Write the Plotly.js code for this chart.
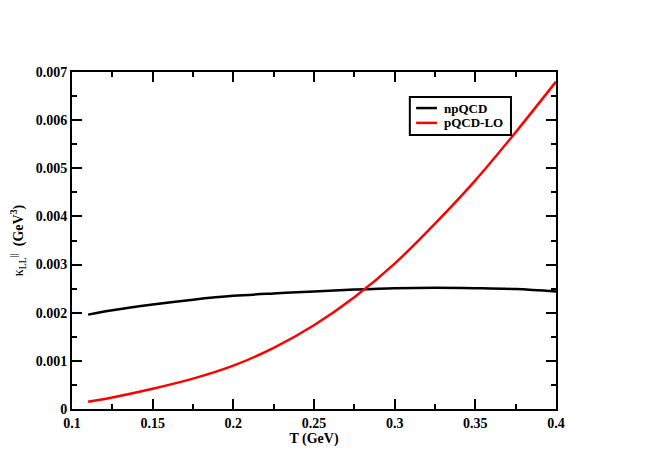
<!DOCTYPE html>
<html>
<head>
<meta charset="utf-8">
<script src="https://cdn.plot.ly/plotly-3.0.1.min.js"></script>
<style>
  html, body { margin: 0; padding: 0; background: #fff; }
  #chart { width: 664px; height: 470px; }
</style>
</head>
<body>
<div id="chart"></div>
<script>
"use strict";

// Temperature grid (GeV)
const temps = [0.11, 0.125, 0.15, 0.175, 0.2, 0.225, 0.25, 0.275, 0.3, 0.325, 0.35, 0.375, 0.4];

// kappa_LL (GeV^3)
const npQCD = [0.00196, 0.00205, 0.00217, 0.00227, 0.00235, 0.0024, 0.00244, 0.00248, 0.00251, 0.00252, 0.00251, 0.00249, 0.00244];
const pQCDLO = [0.00015, 0.00024, 0.00042, 0.00063, 0.0009, 0.00127, 0.00174, 0.00232, 0.00302, 0.00385, 0.00475, 0.00575, 0.0068];

const seriesNames = ["npQCD", "pQCD-LO"];
const seriesColors = ["#000000", "#ff0000"];

const FONT = "'Liberation Serif', 'Times New Roman', serif";

const traces = [npQCD, pQCDLO].map((vals, i) => ({
  type: "scatter",
  mode: "lines",
  name: seriesNames[i],
  x: temps,
  y: vals,
  line: { color: seriesColors[i], width: 2.5, shape: "spline", smoothing: 1 },
}));

const axisBase = {
  showline: true,
  linecolor: "#000",
  linewidth: 2,
  mirror: "ticks",
  ticks: "inside",
  ticklen: 10,
  tickwidth: 2,
  tickcolor: "#000",
  showgrid: false,
  zeroline: false,
  tickfont: { family: FONT, size: 14, color: "#000", weight: "bold" },
};

// Hand-made legend box (Plotly's own legend rows are too tall for this look)
const LEG = { x0: 0.698, x1: 0.907, y0: 0.813, y1: 0.926, rows: [0.893, 0.849], s0: 0.711, s1: 0.754, tx: 0.764 };

const shapes = [
  {
    type: "rect", xref: "paper", yref: "paper", layer: "above",
    x0: LEG.x0, x1: LEG.x1, y0: LEG.y0, y1: LEG.y1,
    line: { color: "#000", width: 2 }, fillcolor: "#fff",
  },
  ...seriesNames.map((n, i) => ({
    type: "line", xref: "paper", yref: "paper", layer: "above",
    x0: LEG.s0, x1: LEG.s1, y0: LEG.rows[i], y1: LEG.rows[i],
    line: { color: seriesColors[i], width: 2.5 },
  })),
];

const annotations = seriesNames.map((n, i) => ({
  xref: "paper", yref: "paper",
  x: LEG.tx, y: LEG.rows[i],
  xanchor: "left", yanchor: "middle",
  text: "<b>" + n + "</b>",
  showarrow: false,
  font: { family: FONT, size: 13, color: "#000" },
}));

const layout = {
  width: 664,
  height: 470,
  paper_bgcolor: "#fff",
  plot_bgcolor: "#fff",
  font: { family: FONT, color: "#000" },
  margin: { t: 72, r: 108, b: 61, l: 72 },
  showlegend: false,
  shapes,
  annotations,
  xaxis: {
    ...axisBase,
    range: [0.1, 0.4],
    tickvals: [0.1, 0.15, 0.2, 0.25, 0.3, 0.35, 0.4],
    ticktext: ["0.1", "0.15", "0.2", "0.25", "0.3", "0.35", "0.4"],
    minor: { dtick: 0.025, tick0: 0.1, ticks: "inside", ticklen: 5, tickwidth: 2, tickcolor: "#000" },
    title: {
      text: "<b>T (GeV)</b>",
      font: { family: FONT, size: 14, color: "#000" },
      standoff: 2,
    },
  },
  yaxis: {
    ...axisBase,
    range: [0, 0.007],
    tickvals: [0, 0.001, 0.002, 0.003, 0.004, 0.005, 0.006, 0.007],
    ticktext: ["0", "0.001", "0.002", "0.003", "0.004", "0.005", "0.006", "0.007"],
    minor: { dtick: 0.0005, tick0: 0, ticks: "inside", ticklen: 5, tickwidth: 2, tickcolor: "#000" },
    title: {
      text: "κ<sub>LL</sub><sup>||</sup>  <b>(GeV<sup>3</sup>)</b>",
      font: { family: FONT, size: 14, color: "#000" },
      standoff: 9,
    },
  },
};

Plotly.newPlot("chart", traces, layout, { displayModeBar: false, staticPlot: true });
</script>
</body>
</html>
